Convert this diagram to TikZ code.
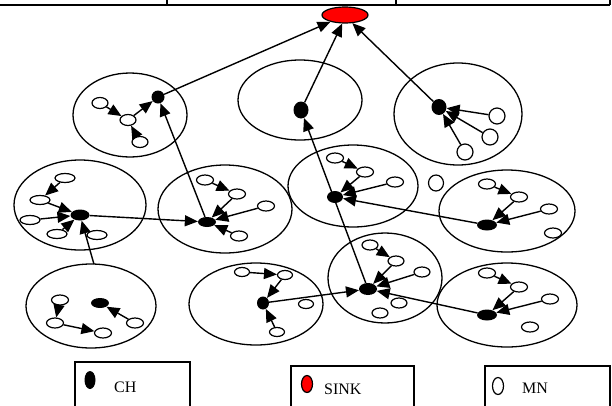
\documentclass[tikz,border=0pt]{standalone}
\usepackage{fontspec}
\setmainfont{Liberation Serif}
\usetikzlibrary{shapes.geometric,arrows.meta}

\begin{document}
\begin{tikzpicture}[x=1pt,y=-1pt,
  cluster/.style={draw,line width=1.3pt,ellipse,inner sep=0pt,outer sep=0pt},
  mn/.style={draw,line width=1.2pt,ellipse,inner sep=0pt,fill=white,minimum width=17pt,minimum height=10pt},
  mnround/.style={mn,minimum width=16pt,minimum height=16pt},
  ch/.style={fill=black,ellipse,inner sep=0pt},
  sinknode/.style={draw,line width=1.2pt,fill=red,ellipse,inner sep=0pt},
  link/.style={line width=1.4pt,-{Triangle[length=13pt,width=11pt]}},
  rule/.style={line width=1.4pt},
  legendbox/.style={line width=1.2pt},
  legendtext/.style={font=\fontsize{16}{18}\selectfont,anchor=west,inner sep=0pt},
]
\useasboundingbox (0,0) rectangle (612,405);

% top rule of the table row
\draw[rule] (0,5) -- (610,5);
\draw[rule] (167,0) -- (167,5);
\draw[rule] (396,0) -- (396,5);
\draw[rule] (610,0) -- (610,5);

% sink
\node[sinknode,minimum width=46pt,minimum height=16pt] (sink) at (345,15) {};
\draw[line width=1pt] (345,5) -- (sink.north);

% clusters
\node[cluster,minimum width=114pt,minimum height=84pt] (cA) at (130,115) {};
\node[cluster,minimum width=124pt,minimum height=80pt] (cB) at (300,100) {};
\node[cluster,minimum width=128pt,minimum height=102pt] (cC) at (458,114) {};
\node[cluster,minimum width=132pt,minimum height=90pt] (cD) at (80,205) {};
\node[cluster,minimum width=134pt,minimum height=88pt] (cE) at (225,209) {};
\node[cluster,minimum width=130pt,minimum height=82pt] (cF) at (353,186) {};
\node[cluster,minimum width=136pt,minimum height=82pt] (cG) at (507,211) {};
\node[cluster,minimum width=130pt,minimum height=84pt] (cH) at (91,306) {};
\node[cluster,minimum width=134pt,minimum height=82pt] (cI) at (256,304) {};
\node[cluster,minimum width=114pt,minimum height=90pt] (cJ) at (385,278) {};
\node[cluster,minimum width=140pt,minimum height=84pt] (cK) at (507,305) {};

% cluster heads
\node[ch,minimum width=13pt,minimum height=13pt] (A) at (158,97) {};
\node[ch,minimum width=15pt,minimum height=17pt] (B) at (301,110) {};
\node[ch,minimum width=15pt,minimum height=16pt] (C) at (439,107) {};
\node[ch,minimum width=19pt,minimum height=11pt] (D) at (80,215) {};
\node[ch,minimum width=18pt,minimum height=10pt] (E) at (207,222) {};
\node[ch,minimum width=16pt,minimum height=12pt] (F) at (335,197) {};
\node[ch,minimum width=20pt,minimum height=11pt] (G) at (487,225) {};
\node[ch,minimum width=18pt,minimum height=10pt] (H) at (100,303) {};
\node[ch,minimum width=12pt,minimum height=13pt] (I) at (263,303) {};
\node[ch,minimum width=18pt,minimum height=12pt] (J) at (368,289) {};
\node[ch,minimum width=20pt,minimum height=11pt] (K) at (487,315) {};

% member nodes
\node[mn,minimum width=16pt,minimum height=11pt] (a1) at (100,103) {};
\node[mn,minimum width=16pt,minimum height=11pt] (a2) at (128,120) {};
\node[mn,minimum width=16pt,minimum height=11pt] (a3) at (140,142) {};

\node[mnround] (c1) at (497,116) {};
\node[mnround] (c2) at (490,137) {};
\node[mnround] (c3) at (465,152) {};

\node[mn,minimum width=20pt,minimum height=9pt] (d1) at (65,178) {};
\node[mn,minimum width=20pt,minimum height=9pt] (d2) at (40,200) {};
\node[mn,minimum width=20pt,minimum height=9pt] (d3) at (30,220) {};
\node[mn,minimum width=20pt,minimum height=9pt] (d4) at (57,234) {};
\node[mn,minimum width=20pt,minimum height=9pt] (d5) at (97,235) {};

\node[mn] (e1) at (205,180) {};
\node[mn] (e2) at (237,194) {};
\node[mn] (e3) at (266,206) {};
\node[mn] (e4) at (239,236) {};

\node[mn] (f1) at (335,158) {};
\node[mn] (f2) at (365,172) {};
\node[mn] (f3) at (395,182) {};
\node[mn,minimum width=15pt,minimum height=16pt] (lone) at (436,183) {};

\node[mn] (g1) at (487,184) {};
\node[mn] (g2) at (519,197) {};
\node[mn] (g3) at (549,209) {};
\node[mn] (g4) at (553,233) {};

\node[mn] (h1) at (60,300) {};
\node[mn] (h2) at (55,323) {};
\node[mn] (h3) at (103,333) {};
\node[mn] (h4) at (135,323) {};

\node[mn,minimum width=15pt,minimum height=9pt] (i1) at (242,272) {};
\node[mn,minimum width=15pt,minimum height=9pt] (i2) at (285,275) {};
\node[mn,minimum width=15pt,minimum height=9pt] (i3) at (306,304) {};
\node[mn,minimum width=15pt,minimum height=9pt] (i4) at (277,332) {};

\node[mn,minimum width=16pt] (j1) at (370,245) {};
\node[mn,minimum width=16pt] (j2) at (396,261) {};
\node[mn,minimum width=16pt] (j3) at (422,272) {};
\node[mn,minimum width=16pt] (j4) at (399,303) {};
\node[mn,minimum width=16pt] (j5) at (380,313) {};

\node[mn] (k1) at (487,273) {};
\node[mn] (k2) at (519,287) {};
\node[mn] (k3) at (550,299) {};
\node[mn] (k4) at (530,327) {};

% routes towards the sink
\draw[link] (A) -- (sink.205);
\draw[link] (B) -- (sink.252);
\draw[link] (C) -- (sink.312);

% cluster head to cluster head
\draw[link] (E) -- (A);
\draw[link] (J) -- (B);
\draw[link] (D) -- (E);
\draw[link] (G) -- (F);
\draw[link] (I) -- (J);
\draw[link] (K) -- (J);
\draw[link] (cH.86) -- (D);

% members inside each cluster
\draw[link] (a1) -- (a2);
\draw[link] (a3) -- (a2);
\draw[link] (a2) -- (A);

\draw[link] (c1) -- (C);
\draw[link] (c2) -- (C);
\draw[link] (c3) -- (C);

\draw[link] (d1) -- (d2);
\draw[link] (d2) -- (D);
\draw[link] (d3) -- (D);
\draw[link] (d4) -- (D);

\draw[link] (e1) -- (e2);
\draw[link] (e2) -- (E);
\draw[link] (e3) -- (E);
\draw[link] (e4) -- (E);

\draw[link] (f1) -- (f2);
\draw[link] (f2) -- (F);
\draw[link] (f3) -- (F);

\draw[link] (g1) -- (g2);
\draw[link] (g2) -- (G);
\draw[link] (g3) -- (G);

\draw[link] (h1) -- (h2);
\draw[link] (h2) -- (h3);
\draw[link] (h4) -- (H);

\draw[link] (i1) -- (i2);
\draw[link] (i2) -- (I);
\draw[link] (i4) -- (I);

\draw[link] (j1) -- (j2);
\draw[link] (j2) -- (J);
\draw[link] (j3) -- (J);

\draw[link] (k1) -- (k2);
\draw[link] (k2) -- (K);
\draw[link] (k3) -- (K);

% legend
\draw[legendbox] (75,412) -- (75,362) -- (190,362) -- (190,412);
\draw[legendbox] (291,412) -- (291,366) -- (414,366) -- (414,412);
\draw[legendbox] (485,412) -- (485,366) -- (610,366) -- (610,412);

\node[ch,minimum width=11pt,minimum height=18pt] (keych) at (90,380) {};
\node[legendtext] (keychtext) at (114,387) {CH};
\node[sinknode,minimum width=11pt,minimum height=17pt] (keysink) at (307,384) {};
\node[legendtext] (keysinktext) at (324,389) {SINK};
\node[draw,line width=1.2pt,ellipse,inner sep=0pt,minimum width=11pt,minimum height=17pt] (keymn) at (498,386) {};
\node[legendtext] (keymntext) at (522,388) {MN};
\end{tikzpicture}
\end{document}
